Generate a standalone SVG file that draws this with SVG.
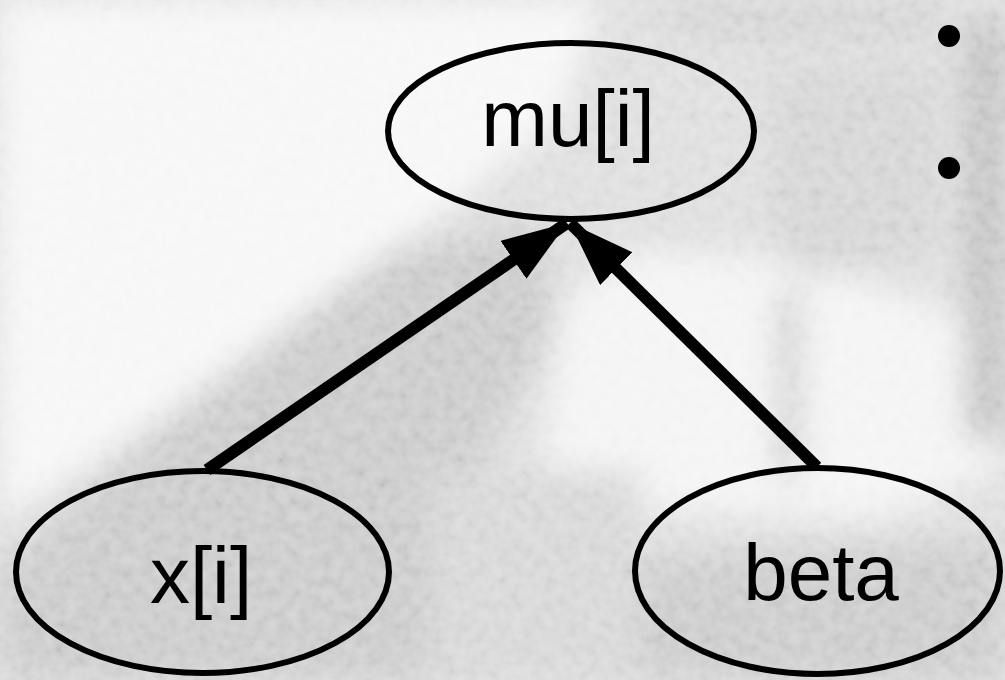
<svg xmlns="http://www.w3.org/2000/svg" width="1005" height="680" viewBox="0 0 1005 680">
  <style>
    .node ellipse { fill: none; stroke: #000; stroke-width: 6; }
    .node text { font-family: "Liberation Sans", Arial, sans-serif; font-size: 80px; fill: #000; text-anchor: middle; }
    .edge { stroke: #000; stroke-width: 12; fill: none; }
  </style>
  <defs>
    <marker id="head" markerUnits="userSpaceOnUse" markerWidth="70" markerHeight="50" refX="65" refY="23" orient="auto">
      <path d="M0,0 L65,23 L0,46 Z" fill="#000"/>
    </marker>
    <filter id="soft" x="-10%" y="-10%" width="120%" height="120%">
      <feGaussianBlur stdDeviation="16"/>
    </filter>
    <filter id="grain" x="0" y="0" width="100%" height="100%">
      <feTurbulence type="fractalNoise" baseFrequency="0.09" numOctaves="2" seed="7"/>
      <feColorMatrix type="matrix" values="1 0 0 0 0  1 0 0 0 0  1 0 0 0 0  0 0 0 0 1"/>
    </filter>
  </defs>

  <!-- photographic backdrop: soft grey tones -->
  <g id="backdrop">
    <rect width="1005" height="680" fill="#dcdcdc"/>
    <g filter="url(#soft)">
      <polygon points="0,0 600,0 560,120 420,230 110,450 0,520" fill="#f6f6f6"/>
      <polygon points="0,570 110,470 390,250 530,225 560,320 480,460 430,680 0,680" fill="#c7c7c7"/>
      <polygon points="560,300 640,250 800,260 1000,330 1000,470 880,520 650,510 540,490" fill="#f3f3f3"/>
      <polygon points="640,0 940,0 940,40 700,40" fill="#d0d0d0"/>
      <polygon points="770,70 940,70 940,250 800,280 770,230" fill="#d2d2d2"/>
      <rect x="965" y="20" width="40" height="420" fill="#bbbbbb"/>
      <rect x="778" y="290" width="22" height="190" fill="#c4c4c4"/>
      <polygon points="640,560 1005,540 1005,680 640,680" fill="#c8c8c8"/>
      <polygon points="430,470 640,470 640,680 430,680" fill="#d4d4d4"/>
    </g>
    <rect width="1005" height="680" filter="url(#grain)" opacity="0.7" style="mix-blend-mode:soft-light"/>
  </g>

  <!-- slide bullets -->
  <g id="bullets" fill="#000">
    <circle cx="949" cy="36" r="11"/>
    <circle cx="949" cy="168" r="11"/>
  </g>

  <!-- connectors -->
  <g id="edges">
    <line class="edge" x1="207" y1="470" x2="567" y2="223" marker-end="url(#head)"/>
    <line class="edge" x1="817" y1="467" x2="570" y2="223" marker-end="url(#head)"/>
  </g>

  <!-- nodes -->
  <g id="node-mu" class="node">
    <ellipse cx="571" cy="131" rx="183" ry="88"/>
    <text x="568" y="146">mu[i]</text>
  </g>
  <g id="node-x" class="node">
    <ellipse cx="202.5" cy="572" rx="186.5" ry="101"/>
    <text x="201" y="603">x[i]</text>
  </g>
  <g id="node-beta" class="node">
    <ellipse cx="817.5" cy="571" rx="182.5" ry="103"/>
    <text x="821" y="600">beta</text>
  </g>
</svg>
